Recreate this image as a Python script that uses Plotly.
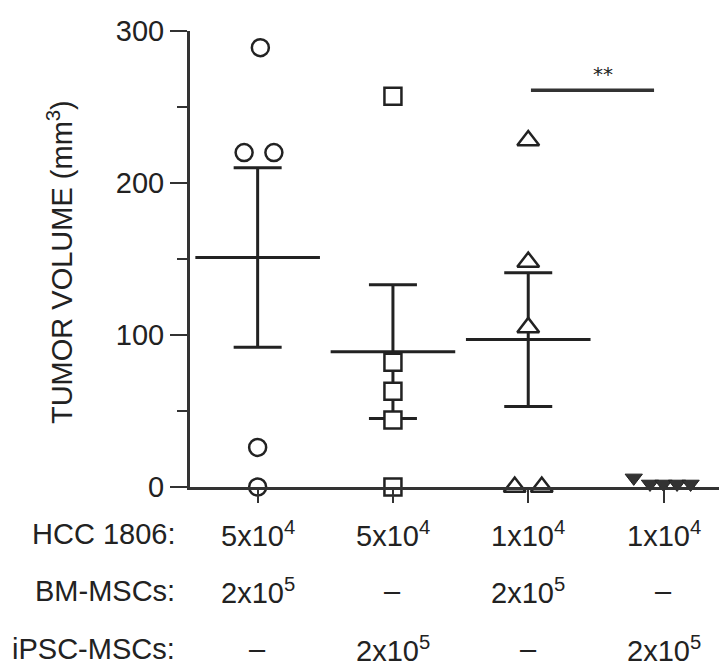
import plotly.graph_objects as go
import numpy as np

# ---------------- data ----------------
groups = [0, 1, 2, 3]
g1_vals = [289, 220, 220, 26, 0]
g1_off = [0.02, -0.10, 0.12, 0.0, 0.0]
g2_vals = [257, 82, 63, 44, 0]
g2_off = [0.0, 0.0, 0.0, 0.0, 0.0]
g3_vals = [228, 148, 105, 0, 0]
g3_off = [0.0, 0.0, 0.0, -0.10, 0.10]
g4_vals = [6, 2, 2, 2, 2]
g4_off = [-0.22, -0.10, 0.0, 0.10, 0.20]

means = [151, 89, 97]
sems = [59, 44, 44]

sig_x = [2.02, 2.93]
sig_y = [261, 261]
sig_label = "**"

row_labels = ["HCC 1806:", "BM-MSCs:", "iPSC-MSCs:"]
hcc = ["5x10<sup>4</sup>", "5x10<sup>4</sup>", "1x10<sup>4</sup>", "1x10<sup>4</sup>"]
bm = ["2x10<sup>5</sup>", "–", "2x10<sup>5</sup>", "–"]
ipsc = ["–", "2x10<sup>5</sup>", "–", "2x10<sup>5</sup>"]

y_title = "TUMOR VOLUME (mm<sup>3</sup>)"

FONT = "Liberation Sans, Arial, sans-serif"
FS = 29
INK = "#222222"

fig = go.Figure()

def pts(g, vals, off, symbol, size=17):
    fig.add_trace(go.Scatter(
        x=[g + o for o in off], y=vals, mode="markers", cliponaxis=False,
        marker=dict(symbol=symbol, size=size, color="white",
                    line=dict(color=INK, width=2.5)),
        showlegend=False))

# mean + SEM
fig.add_trace(go.Scatter(
    x=groups[:3], y=means, mode="markers", cliponaxis=False,
    marker=dict(symbol="line-ew", size=89, line=dict(color=INK, width=3)),
    error_y=dict(type="data", array=sems, visible=True, color=INK,
                 thickness=3, width=24),
    showlegend=False))

pts(0, g1_vals, g1_off, "circle", 17)
pts(1, g2_vals, g2_off, "square", 17)
pts(2, g3_vals, g3_off, "triangle-up", 19)
fig.add_trace(go.Scatter(
    x=[3 + o for o in g4_off], y=g4_vals, mode="markers", cliponaxis=False,
    marker=dict(symbol="triangle-down", size=15, color="#333333",
                line=dict(color=INK, width=1)),
    showlegend=False))

# significance bar
fig.add_trace(go.Scatter(x=sig_x, y=sig_y, mode="lines",
                         line=dict(color="#333333", width=3.5),
                         showlegend=False))

annotations = [
    dict(x=float(np.mean(sig_x)), y=sig_y[0], xref="x", yref="y",
         text=sig_label, showarrow=False, yanchor="bottom", yshift=2,
         xshift=10, font=dict(size=20, color=INK, family="DejaVu Sans"))
]

# y title
annotations.append(dict(x=0, y=148, xref="paper", yref="y", text=y_title,
                        textangle=-90, showarrow=False, xshift=-130,
                        xanchor="center", yanchor="middle",
                        font=dict(size=FS, color=INK, family=FONT)))

row_shifts = [-47, -104, -162]
for lab, ys in zip(row_labels, row_shifts):
    annotations.append(dict(x=0, y=0, xref="paper", yref="y", text=lab,
                            showarrow=False, xanchor="right", yanchor="middle",
                            xshift=-13, yshift=ys,
                            font=dict(size=FS, color=INK, family=FONT)))
for row, ys in zip([hcc, bm, ipsc], row_shifts):
    for g, t in zip(groups, row):
        annotations.append(dict(x=g, y=0, xref="x", yref="y", text=t,
                                showarrow=False, xanchor="center",
                                yanchor="middle", yshift=ys,
                                font=dict(size=FS, color=INK, family=FONT)))

fig.update_layout(
    width=719, height=671,
    margin=dict(l=190, r=0, t=31, b=184, pad=0),
    plot_bgcolor="white", paper_bgcolor="white",
    font=dict(family=FONT, size=FS, color=INK),
    annotations=annotations,
    xaxis=dict(range=[-0.5, 3.41], showgrid=False, zeroline=False,
               showline=True, linecolor="#333333", linewidth=3,
               tickvals=groups, ticks="outside", ticklen=13, tickwidth=1.5,
               tickcolor="#333333", showticklabels=False),
    yaxis=dict(range=[0, 300], showgrid=False, zeroline=False,
               showline=True, linecolor="#333333", linewidth=3,
               tickvals=[0, 100, 200, 300], ticks="outside", ticklen=17,
               tickwidth=2, tickcolor="#333333",
               tickfont=dict(size=FS, color=INK, family=FONT),
               minor=dict(tickvals=[50, 150, 250], ticks="outside",
                          ticklen=10, tickwidth=2, tickcolor="#333333")),
)

fig.write_html("out.html")
